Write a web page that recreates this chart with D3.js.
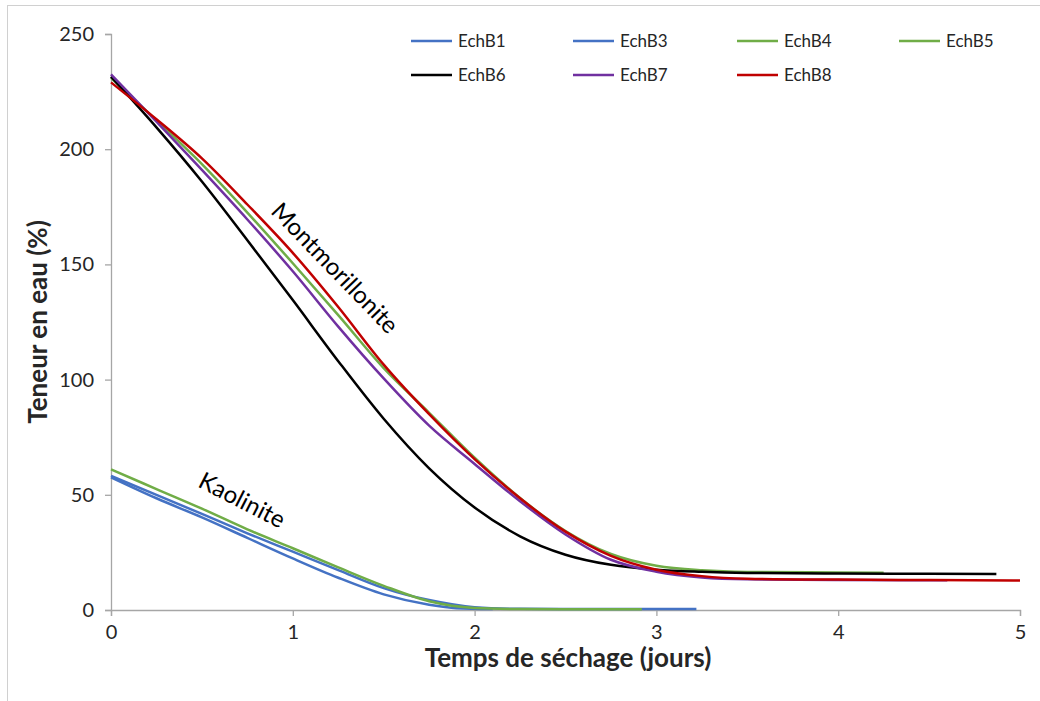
<!DOCTYPE html>
<html><head><meta charset="utf-8">
<script src="https://cdn.jsdelivr.net/npm/d3@7"></script>
<style>body{margin:0;background:#fff}svg{display:block}</style>
</head><body><svg id="c" width="1040" height="701"></svg>
<script>
// Data (days, water content %)
const xTicks = [0,1,2,3,4,5];
const yTicks = [0,50,100,150,200,250];
const seriesNames = ["EchB1","EchB3","EchB4","EchB5","EchB6","EchB7","EchB8"];
const seriesColors = ["#4472C4","#4472C4","#70AD47","#70AD47","#000000","#7030A0","#C00000"];

const echB1 = [[0,57.6],[0.25,48.5],[0.5,40.2],[0.75,31.3],[1,22.4],[1.25,14],[1.5,6.8],[1.75,2.3],[1.9,0.8],[2.1,0.4]];
const echB3 = [[0,58.2],[0.25,50],[0.5,41.7],[0.75,33.3],[1,25.3],[1.25,17.3],[1.5,9.5],[1.75,4.3],[2,1.2],[2.25,0.5],[2.5,0.4],[3,0.4],[3.22,0.4]];
const echB4 = [[0,61],[0.25,52.5],[0.5,44],[0.75,35],[1,26.8],[1.25,18.5],[1.5,10.5],[1.75,3.8],[2,0.9],[2.25,0.4],[2.5,0.3],[2.92,0.3]];
const echB5 = [[0,231],[0.25,212.5],[0.5,193.5],[0.75,172.5],[1,150.5],[1.25,128],[1.5,105],[1.75,85.6],[2,66.1],[2.25,48.6],[2.5,34.3],[2.75,24.3],[3,19.2],[3.25,17.2],[3.5,16.5],[4,16.3],[4.25,16.2]];
const echB6 = [[0,231.5],[0.25,209.5],[0.5,186],[0.75,160.5],[1,134.5],[1.25,108],[1.5,83],[1.75,61.5],[2,44.5],[2.25,32],[2.5,24],[2.75,19.6],[3,17.5],[3.25,16.6],[3.5,16.1],[4,15.8],[4.5,15.7],[4.87,15.6]];
const echB7 = [[0,232.5],[0.25,212],[0.5,191],[0.75,169.5],[1,147],[1.25,123],[1.5,100.5],[1.75,80],[2,63.4],[2.25,47.2],[2.5,32.8],[2.75,21.8],[3,16.6],[3.25,14.1],[3.5,13.3],[4,13],[4.6,12.9]];
const echB8 = [[0,229],[0.25,213],[0.5,196],[0.75,176],[1,155],[1.25,131.5],[1.5,106.5],[1.75,85],[2,65.5],[2.25,48.5],[2.5,34],[2.75,23.5],[3,17.5],[3.25,14.7],[3.5,13.6],[4,13.2],[4.5,13],[5,12.8]];
const seriesData = [echB1, echB3, echB4, echB5, echB6, echB7, echB8];

const svg = d3.select("#c");
const font = "Lato, 'Open Sans', sans-serif";
// outer frame
svg.append("rect").attr("x",7.5).attr("y",5.5).attr("width",1100).attr("height",800)
  .attr("fill","none").attr("stroke","#d0d0d0");

const x = d3.scaleLinear().domain([0,5]).range([111,1020]);
const y = d3.scaleLinear().domain([0,250]).range([610,34]);

const ya = svg.append("g").attr("transform","translate(111,0)")
  .call(d3.axisLeft(y).tickValues(yTicks).tickFormat(d3.format("d")).tickSize(6).tickPadding(11));
const xa = svg.append("g").attr("transform","translate(0,610)")
  .call(d3.axisBottom(x).tickValues(xTicks).tickFormat(d3.format("d")).tickSize(6).tickPadding(9));
[ya,xa].forEach(a=>{
  a.selectAll("path,line").attr("stroke","#a6a6a6").attr("stroke-width",1.3);
  a.selectAll("text").attr("font-family",font).attr("font-size",20).attr("fill","#262626");
});

const line = d3.line().x(d=>x(d[0])).y(d=>y(d[1])).curve(d3.curveMonotoneX);
seriesData.forEach((s,i)=>{
  svg.append("path").datum(s).attr("d",line).attr("fill","none")
    .attr("stroke",seriesColors[i]).attr("stroke-width",2.5);
});

// legend
const legX = [411,573,737,899];
const legY = [41,75];
seriesNames.forEach((n,i)=>{
  const lx = legX[i<4?i:i-4], ly = legY[i<4?0:1];
  svg.append("line").attr("x1",lx).attr("x2",lx+41).attr("y1",ly).attr("y2",ly)
    .attr("stroke",seriesColors[i]).attr("stroke-width",2.5);
  svg.append("text").attr("x",lx+47).attr("y",ly).attr("dy","0.35em")
    .attr("font-family",font).attr("font-size",17).attr("fill","#262626").text(n);
});

// axis titles
svg.append("text").attr("transform","translate(38,322) rotate(-90)").attr("text-anchor","middle")
  .attr("dy","0.35em").attr("font-family",font).attr("font-size",26).attr("font-weight","bold")
  .attr("fill","#262626").text("Teneur en eau (%)");
svg.append("text").attr("x",568).attr("y",658).attr("text-anchor","middle")
  .attr("dy","0.35em").attr("font-family",font).attr("font-size",26).attr("font-weight","bold")
  .attr("fill","#262626").text("Temps de séchage (jours)");

// annotations
svg.append("text").attr("transform","translate(335,268) rotate(46)").attr("text-anchor","middle")
  .attr("dy","0.35em").attr("font-family",font).attr("font-size",24).attr("fill","#000").text("Montmorillonite");
svg.append("text").attr("transform","translate(242,500) rotate(27)").attr("text-anchor","middle")
  .attr("dy","0.35em").attr("font-family",font).attr("font-size",24).attr("fill","#000").text("Kaolinite");
</script></body></html>
